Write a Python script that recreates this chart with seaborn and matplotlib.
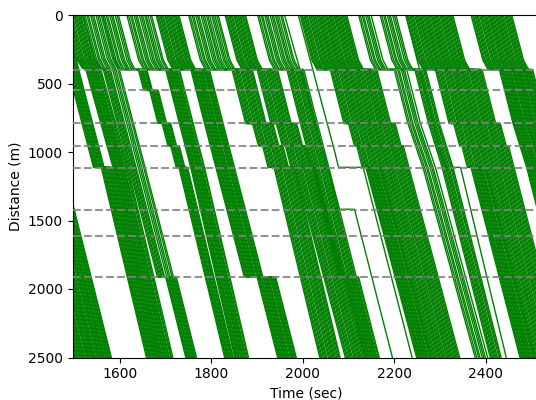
import numpy as np
import pandas as pd
import matplotlib
matplotlib.use("Agg")
import matplotlib.pyplot as plt
import seaborn as sns

# ---- signal stop-line positions (m) ----
signal_dist = [400, 550, 790, 955, 1115, 1420, 1615, 1915]

# ---- headway patterns (s) read as typical spacing inside bands ----
gap_dense = [2.1, 1.9, 2.3, 2.0, 1.8, 2.6, 2.0, 2.2, 1.9, 2.4, 2.0, 1.8, 3.0, 2.1, 1.9,
             2.2, 2.0, 2.5, 1.9, 2.1, 2.0, 2.3, 1.8, 2.9, 2.0, 2.1, 1.9, 2.2, 2.4, 2.0,
             1.8, 2.1, 2.6, 2.0, 1.9, 2.2, 2.0, 2.3, 1.9, 2.1]
gap_mid = [2.6, 2.4, 3.0, 2.2, 2.8, 2.5, 3.4, 2.3, 2.6, 2.9, 2.4, 2.7, 2.2, 3.1, 2.5,
           2.6, 2.3, 2.8, 2.4, 3.0, 2.5, 2.6, 2.2, 2.9, 2.4, 2.7, 2.5, 3.2, 2.3, 2.6,
           2.5, 2.8, 2.4, 2.6, 3.0, 2.3, 2.7, 2.5, 2.6, 2.4]
gap_sparse = [3.5, 4.2, 3.0, 4.8, 3.6, 3.2, 5.0, 3.8, 3.4, 4.4, 3.1, 3.9, 4.6, 3.3, 3.7,
              4.1, 3.0, 4.5, 3.6, 3.8, 3.2, 4.3, 3.5, 4.0, 3.4, 4.7, 3.3, 3.9, 3.6, 4.2,
              3.1, 3.8, 4.4, 3.5, 3.7, 4.0, 3.3, 3.9, 3.6, 4.1]
gap_sets = {"dense": gap_dense, "mid": gap_mid, "sparse": gap_sparse}

# ---- platoons: leader waypoints (time s, distance m) per leg, vehicles, headway per leg ----
platoons = [
    dict(n=40, gaps=["dense"], legs=[[(1310, 0), (1498, 2500)]]),
    dict(n=12, gaps=["dense", "dense"],
         legs=[[(1456, 0), (1500, 573), (1542, 1112)], [(1559, 1112), (1658, 2500)]]),
    dict(n=16, gaps=["mid", "dense"],
         legs=[[(1480, 0), (1505, 320), (1518, 390)],
               [(1525, 392), (1585, 1115), (1683, 2500)]]),
    dict(n=12, gaps=["sparse", "mid", "dense"],
         legs=[[(1520, 0), (1545, 320), (1556, 390)],
               [(1563, 392), (1620, 1115), (1682, 1913)],
               [(1700, 1913), (1744, 2500)]]),
    dict(n=10, gaps=["sparse", "dense", "dense", "dense", "dense", "dense"],
         legs=[[(1562, 0), (1588, 330), (1598, 398)], [(1640, 398), (1652, 550)],
               [(1665, 550), (1683, 790)], [(1692, 790), (1705, 955)],
               [(1711, 955), (1723, 1112)], [(1729, 1112), (1829, 2500)]]),
    dict(n=15, gaps=["sparse", "dense"],
         legs=[[(1615, 0), (1641, 330), (1652, 398)],
               [(1700, 398), (1730, 792), (1755, 1115), (1851, 2500)]]),
    dict(n=20, gaps=["mid", "dense", "dense"],
         legs=[[(1679, 0), (1705, 330), (1716, 398)],
               [(1755, 398), (1785, 792), (1810, 1115), (1872, 1913)],
               [(1900, 1913), (1945, 2500)]]),
    dict(n=18, gaps=["sparse", "mid"],
         legs=[[(1750, 0), (1776, 330), (1787, 398)],
               [(1845, 398), (1875, 792), (1890, 792), (1903, 955), (1912, 955),
                (1924, 1112), (1937, 1112), (2037, 2500)]]),
    dict(n=18, gaps=["mid", "mid"],
         legs=[[(1830, 0), (1856, 330), (1867, 398)],
               [(1900, 398), (1930, 792), (1942, 792), (1955, 955), (1962, 955),
                (1974, 1112), (1982, 1112), (2093, 2500)]]),
    dict(n=15, gaps=["sparse", "mid", "dense"],
         legs=[[(1901, 0), (1927, 330), (1938, 398)],
               [(1965, 398), (1995, 792), (2020, 1115), (2080, 1913)],
               [(2092, 1913), (2137, 2500)]]),
    dict(n=40, gaps=["mid", "mid", "dense"],
         legs=[[(1994, 0), (2020, 330), (2031, 398)],
               [(2060, 398), (2090, 792), (2100, 792), (2113, 955), (2118, 955),
                (2130, 1112)],
               [(2138, 1112), (2249, 2500)]]),
    dict(n=8, gaps=["sparse", "sparse"],
         legs=[[(2122, 0), (2148, 330), (2159, 398)],
               [(2200, 398), (2230, 792), (2263, 1115), (2377, 2500)]]),
    dict(n=10, gaps=["sparse", "mid"],
         legs=[[(2169, 0), (2195, 330), (2206, 398)],
               [(2245, 398), (2275, 792), (2305, 1115), (2410, 2500)]]),
    dict(n=40, gaps=["mid", "mid", "dense"],
         legs=[[(2226, 0), (2252, 330), (2263, 398)],
               [(2290, 398), (2320, 792), (2330, 792), (2343, 955), (2348, 955),
                (2360, 1112)],
               [(2368, 1112), (2475, 2500)]]),
    dict(n=35, gaps=["mid", "dense"],
         legs=[[(2368, 0), (2394, 330), (2405, 398)],
               [(2430, 398), (2460, 792), (2490, 1115), (2595, 2500)]]),
    dict(n=1, gaps=["dense"],
         legs=[[(1990, 0), (2070, 1000), (2078, 1112), (2132, 1112), (2239, 2500)]]),
    dict(n=1, gaps=["dense"],
         legs=[[(1960, 0), (2080, 1418), (2113, 1418), (2196, 2500)]]),
    dict(n=1, gaps=["dense"],
         legs=[[(2225, 0), (2310, 1112), (2345, 1112), (2445, 2500)]]),
]

rows = []
vid = 0
for p in platoons:
    cums = []
    for g in p["gaps"]:
        seq = gap_sets[g][: p["n"] - 1]
        cums.append(np.concatenate([[0.0], np.cumsum(seq)]))
    for k in range(p["n"]):
        last_t = -np.inf
        for j, leg in enumerate(p["legs"]):
            off = cums[j][k]
            shift = max(0.0, last_t - (leg[0][0] + off))
            for (t, d) in leg:
                rows.append((vid, t + off + shift, d))
            last_t = leg[-1][0] + off + shift
        vid += 1

df = pd.DataFrame(rows, columns=["veh", "t", "d"])

fig = plt.figure(figsize=(5.36, 4.0), dpi=100)
ax = fig.add_axes([0.1356, 0.10625, 0.8718, 0.85625])
sns.lineplot(data=df, x="t", y="d", units="veh", estimator=None, sort=False,
             color="green", lw=1.0, alpha=1.0, ax=ax, legend=False)
for s in signal_dist:
    ax.axhline(s, color="gray", ls="--", lw=1.5, alpha=0.85, zorder=5)

ax.set_xlim(1496.5, 2518.8)
ax.set_ylim(2500, 0)
ax.set_xticks([1600, 1800, 2000, 2200, 2400])
ax.set_yticks([0, 500, 1000, 1500, 2000, 2500])
ax.set_xlabel("Time (sec)")
ax.set_ylabel("Distance (m)")
fig.savefig("out.png", dpi=100)
